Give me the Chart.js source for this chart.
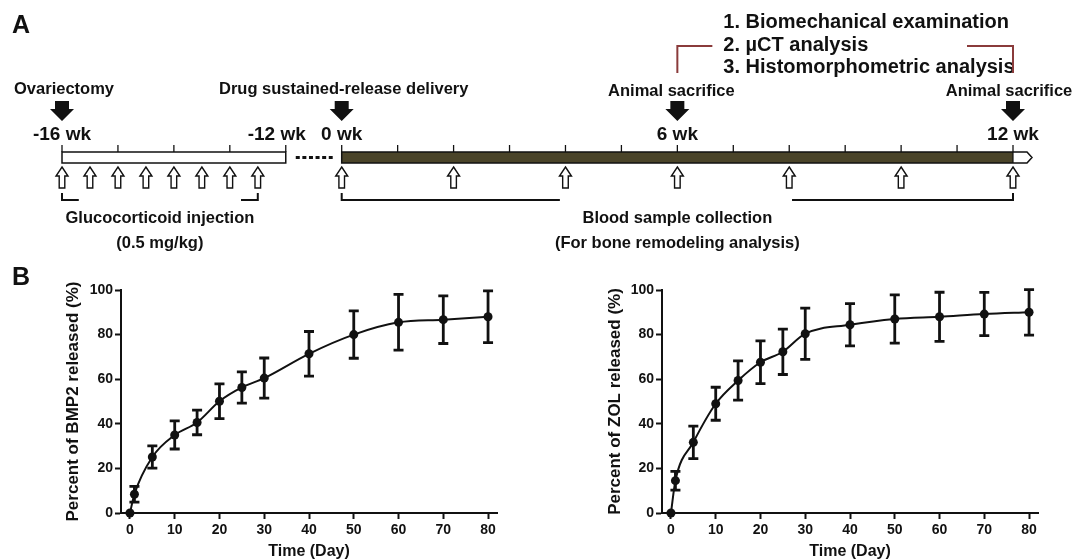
<!DOCTYPE html>
<html>
<head>
<meta charset="utf-8">
<title>Experimental timeline and release profiles</title>
<script src="https://cdn.jsdelivr.net/npm/chart.js@4.4.1/dist/chart.umd.min.js"></script>
<style>
  html, body { margin: 0; padding: 0; background: #fff; }
  #figure { position: relative; width: 1075px; height: 560px; overflow: hidden; font-family: 'Liberation Sans', Arial, sans-serif; }
  .panel-label { position: absolute; font-weight: bold; font-size: 25px; line-height: 1; color: #111; }
  .box { position: absolute; }
  .box canvas { display: block; }
</style>
</head>
<body>
<div id="figure">
  <div class="box" style="left:0; top:0;"><canvas id="timeline" width="1075" height="262"></canvas></div>
  <div class="box" style="left:0; top:262px;"><canvas id="bmp2Chart" width="535" height="298"></canvas></div>
  <div class="box" style="left:535px; top:262px;"><canvas id="zolChart" width="540" height="298"></canvas></div>
  <div class="panel-label" style="left:12px; top:12px;">A</div>
  <div class="panel-label" style="left:12px; top:264px;">B</div>
</div>
<script>
/* ---- panel A: study timeline (weeks) ---- */
const PRE_WEEKS = [-16, -15, -14, -13, -12];
const POST_WEEKS = [0, 1, 2, 3, 4, 5, 6, 7, 8, 9, 10, 11, 12];
const INJECTION_WEEKS = [-16, -15.5, -15, -14.5, -14, -13.5, -13, -12.5];
const BLOOD_WEEKS = [0, 2, 4, 6, 8, 10, 12];
const WEEK_LABEL_AT = [-16, -12, 0, 6, 12];
const WEEK_LABEL_TEXT = ['-16 wk', '-12 wk', '0 wk', '6 wk', '12 wk'];
const EVENT_AT = [-16, 0, 6, 12];
const EVENT_TEXT = ['Ovariectomy', 'Drug sustained-release delivery', 'Animal sacrifice', 'Animal sacrifice'];
const ANALYSES = ['1. Biomechanical examination', '2. \u00B5CT analysis', '3. Histomorphometric analysis'];

/* ---- panel B: cumulative release (%) vs time (day) ---- */
const DAYS = [0, 1, 5, 10, 15, 20, 25, 30, 40, 50, 60, 70, 80];
const BMP2_RELEASE = [0, 8.4, 25.1, 35, 40.6, 50.1, 56.3, 60.5, 71.4, 80, 85.5, 86.7, 88];
const BMP2_SD = [0, 3.5, 5, 6.3, 5.5, 7.8, 7, 9, 10, 10.6, 12.5, 10.7, 11.6];
const ZOL_RELEASE = [0, 14.5, 31.7, 49, 59.4, 67.6, 72.3, 80.4, 84.4, 87, 88, 89.2, 90];
const ZOL_SD = [0, 4.2, 7.3, 7.4, 8.8, 9.6, 10.2, 11.5, 9.5, 10.8, 11, 9.7, 10.2];
const X_TICKS = [0, 10, 20, 30, 40, 50, 60, 70, 80];
const Y_TICKS = [0, 20, 40, 60, 80, 100];

const FONT = "'Liberation Sans', Arial, sans-serif";
const INK = '#111';
const BAR_FILL = '#4a4429';
const BRACKET_RED = '#8a3b3b';

// the pre-treatment block is drawn next to week 0 with a one-week gap
const track = w => (w < 0 ? w + 11 : w);

// rows of the diagram (canvas px)
const ROW = {
  list: [22, 45, 67], redTop: 46, redBottom: 73,
  event: 90, arrowTop: 101, arrowBottom: 121, week: 135,
  tickTop: 145, barTop: 152, barBottom: 163,
  hollowTop: 167, hollowBottom: 188, bracketTop: 193, bracketBottom: 200,
  note1: 218, note2: 243,
};

function solidArrow(ctx, x, top, bottom) {
  const mid = top + 8;
  ctx.beginPath();
  ctx.moveTo(x - 7, top); ctx.lineTo(x + 7, top); ctx.lineTo(x + 7, mid);
  ctx.lineTo(x + 12, mid); ctx.lineTo(x, bottom); ctx.lineTo(x - 12, mid);
  ctx.lineTo(x - 7, mid); ctx.closePath();
  ctx.fillStyle = INK; ctx.fill();
}

function hollowArrow(ctx, x, top, bottom) {
  const hw = 6, sw = 2.8, hh = 9;
  ctx.beginPath();
  ctx.moveTo(x, top); ctx.lineTo(x + hw, top + hh); ctx.lineTo(x + sw, top + hh);
  ctx.lineTo(x + sw, bottom); ctx.lineTo(x - sw, bottom); ctx.lineTo(x - sw, top + hh);
  ctx.lineTo(x - hw, top + hh); ctx.closePath();
  ctx.fillStyle = '#fff'; ctx.fill();
  ctx.lineWidth = 1.4; ctx.strokeStyle = INK; ctx.stroke();
}

function polyline(ctx, pts, color, width) {
  ctx.beginPath();
  pts.forEach(([px, py], i) => (i ? ctx.lineTo(px, py) : ctx.moveTo(px, py)));
  ctx.lineWidth = width; ctx.strokeStyle = color; ctx.stroke();
}

function text(ctx, str, x, y, size, align) {
  ctx.font = `bold ${size}px ${FONT}`;
  ctx.fillStyle = INK;
  ctx.textAlign = align || 'center';
  ctx.textBaseline = 'middle';
  ctx.fillText(str, x, y);
}

const timelinePlugin = {
  id: 'timeline',
  afterDraw(chart) {
    const { ctx } = chart;
    const X = w => chart.scales.x.getPixelForValue(track(w));
    ctx.save();
    ctx.lineCap = 'butt';

    // week ticks
    [...PRE_WEEKS, ...POST_WEEKS].forEach(w => {
      polyline(ctx, [[X(w), ROW.tickTop], [X(w), ROW.barTop]], INK, 1.3);
    });

    // pre-treatment block (white)
    const barH = ROW.barBottom - ROW.barTop;
    ctx.fillStyle = '#fff';
    ctx.fillRect(X(-16), ROW.barTop, X(-12) - X(-16), barH);
    ctx.lineWidth = 1.5; ctx.strokeStyle = INK;
    ctx.strokeRect(X(-16), ROW.barTop, X(-12) - X(-16), barH);

    // gap dots
    ctx.setLineDash([4, 2.6]);
    polyline(ctx, [[X(-12) + 10, (ROW.barTop + ROW.barBottom) / 2], [X(0) - 9, (ROW.barTop + ROW.barBottom) / 2]], INK, 3);
    ctx.setLineDash([]);

    // treatment block (dark) with white pointed end
    const x0 = X(0), x12 = X(12), yMid = (ROW.barTop + ROW.barBottom) / 2;
    ctx.fillStyle = BAR_FILL;
    ctx.fillRect(x0, ROW.barTop, x12 - x0, barH);
    ctx.beginPath();
    ctx.moveTo(x12, ROW.barTop); ctx.lineTo(x12 + 14, ROW.barTop); ctx.lineTo(x12 + 19, yMid);
    ctx.lineTo(x12 + 14, ROW.barBottom); ctx.lineTo(x12, ROW.barBottom); ctx.closePath();
    ctx.fillStyle = '#fff'; ctx.fill();
    ctx.beginPath();
    ctx.moveTo(x12, ROW.barTop); ctx.lineTo(x0, ROW.barTop); ctx.lineTo(x0, ROW.barBottom); ctx.lineTo(x12, ROW.barBottom);
    ctx.moveTo(x12, ROW.barTop); ctx.lineTo(x12 + 14, ROW.barTop); ctx.lineTo(x12 + 19, yMid);
    ctx.lineTo(x12 + 14, ROW.barBottom); ctx.lineTo(x12, ROW.barBottom);
    ctx.lineWidth = 1.5; ctx.strokeStyle = INK; ctx.stroke();
    polyline(ctx, [[x12, ROW.barTop], [x12, ROW.barBottom]], INK, 1.2);

    // hollow arrows: injections and blood sampling
    INJECTION_WEEKS.forEach(w => hollowArrow(ctx, X(w), ROW.hollowTop, ROW.hollowBottom));
    BLOOD_WEEKS.forEach(w => hollowArrow(ctx, X(w), ROW.hollowTop, ROW.hollowBottom));

    // brackets under the arrows
    const bt = ROW.bracketTop, bb = ROW.bracketBottom;
    polyline(ctx, [[X(-16), bt], [X(-16), bb], [X(-15.7), bb]], INK, 2);
    polyline(ctx, [[X(-12.8), bb], [X(-12.5), bb], [X(-12.5), bt]], INK, 2);
    polyline(ctx, [[X(0), bt], [X(0), bb], [X(3.9), bb]], INK, 2);
    polyline(ctx, [[X(8.05), bb], [X(12), bb], [X(12), bt]], INK, 2);
    text(ctx, 'Glucocorticoid injection', (X(-16) + X(-12.5)) / 2, ROW.note1, 16.5);
    text(ctx, '(0.5 mg/kg)', (X(-16) + X(-12.5)) / 2, ROW.note2, 16.5);
    text(ctx, 'Blood sample collection', (X(0) + X(12)) / 2, ROW.note1, 16.5);
    text(ctx, '(For bone remodeling analysis)', (X(0) + X(12)) / 2, ROW.note2, 16.5);

    // week labels
    WEEK_LABEL_AT.forEach((w, i) => {
      if (w === -12) text(ctx, WEEK_LABEL_TEXT[i], X(w) + 20, ROW.week, 19, 'right');
      else text(ctx, WEEK_LABEL_TEXT[i], X(w), ROW.week, 19);
    });

    // events with solid arrows
    EVENT_AT.forEach((w, i) => {
      solidArrow(ctx, X(w), ROW.arrowTop, ROW.arrowBottom);
      const dx = w === 12 ? -4 : (w === 6 ? -6 : 2);
      text(ctx, EVENT_TEXT[i], X(w) + dx, ROW.event + (w > 0 ? 1 : -1), 16.5);
    });

    // analyses list with red bracket between the two sacrifices
    ANALYSES.forEach((s, i) => text(ctx, s, X(6) + 46, ROW.list[i], 20, 'left'));
    polyline(ctx, [[X(6), ROW.redBottom], [X(6), ROW.redTop], [X(6) + 35, ROW.redTop]], BRACKET_RED, 2);
    polyline(ctx, [[X(12) - 46, ROW.redTop], [X(12), ROW.redTop], [X(12), ROW.redBottom]], BRACKET_RED, 2);
    ctx.restore();
  },
};

new Chart(document.getElementById('timeline'), {
  type: 'scatter',
  data: { datasets: [{ data: [] }] },
  options: {
    responsive: false,
    animation: false,
    events: [],
    layout: { padding: { left: 62, right: 62, top: 0, bottom: 0 } },
    scales: {
      x: { display: false, min: track(-16), max: track(12) },
      y: { display: false, min: 0, max: 1 },
    },
    plugins: { legend: { display: false }, tooltip: { enabled: false } },
  },
  plugins: [timelinePlugin],
});

/* ---- release curves ---- */
const errorBars = {
  id: 'errorBars',
  beforeDatasetsDraw(chart) {
    const { ctx, scales: { x, y } } = chart;
    ctx.save();
    ctx.strokeStyle = INK;
    ctx.lineWidth = 2.8;
    chart.data.datasets.forEach(ds => {
      ds.data.forEach((p, i) => {
        const sd = ds.sd[i];
        if (!sd) return;
        const px = x.getPixelForValue(p.x);
        const top = y.getPixelForValue(p.y + sd);
        const bot = y.getPixelForValue(p.y - sd);
        ctx.beginPath();
        ctx.moveTo(px, top); ctx.lineTo(px, bot);
        ctx.moveTo(px - 5, top); ctx.lineTo(px + 5, top);
        ctx.moveTo(px - 5, bot); ctx.lineTo(px + 5, bot);
        ctx.stroke();
      });
    });
    ctx.restore();
  },
};

function releaseChart(id, values, sd, yTitle, padLeft, yWidth, padRight) {
  const axisFont = { family: FONT, size: 14, weight: 'bold' };
  const grid = { drawOnChartArea: false, drawTicks: true, tickLength: 6, tickWidth: 2, color: INK };
  return new Chart(document.getElementById(id), {
    type: 'line',
    data: {
      datasets: [{
        data: DAYS.map((d, i) => ({ x: d, y: values[i] })),
        sd,
        borderColor: INK,
        borderWidth: 2,
        cubicInterpolationMode: 'monotone',
        pointRadius: 4.5,
        pointBackgroundColor: INK,
        pointBorderColor: INK,
        pointBorderWidth: 0,
        clip: false,
        fill: false,
      }],
    },
    options: {
      responsive: false,
      animation: false,
      events: [],
      layout: { padding: { left: padLeft, right: padRight, top: 28, bottom: 0 } },
      scales: {
        x: {
          type: 'linear', min: -2, max: 82,
          afterBuildTicks: s => { s.ticks = X_TICKS.map(v => ({ value: v })); },
          afterFit: s => { s.height = 47; },
          ticks: { color: INK, font: axisFont, padding: 3, maxRotation: 0 },
          grid,
          border: { color: INK, width: 2 },
          title: {
            display: true, text: 'Time (Day)', color: INK,
            font: { family: FONT, size: 16, weight: 'bold', lineHeight: 1 },
            padding: { top: 0, bottom: 0 },
          },
        },
        y: {
          min: 0, max: 100,
          afterBuildTicks: s => { s.ticks = Y_TICKS.map(v => ({ value: v })); },
          afterFit: s => { s.width = yWidth; },
          ticks: { color: INK, font: axisFont, padding: 2 },
          grid,
          border: { color: INK, width: 2 },
          title: {
            display: true, text: yTitle, color: INK,
            font: { family: FONT, size: 17, weight: 'bold' },
            padding: { top: 3, bottom: 0 },
          },
        },
      },
      plugins: { legend: { display: false }, tooltip: { enabled: false } },
    },
    plugins: [errorBars],
  });
}

releaseChart('bmp2Chart', BMP2_RELEASE, BMP2_SD, 'Percent of BMP2 released (%)', 60, 61, 38);
releaseChart('zolChart', ZOL_RELEASE, ZOL_SD, 'Percent of ZOL released (%)', 67, 60, 37);
</script>
</body>
</html>
